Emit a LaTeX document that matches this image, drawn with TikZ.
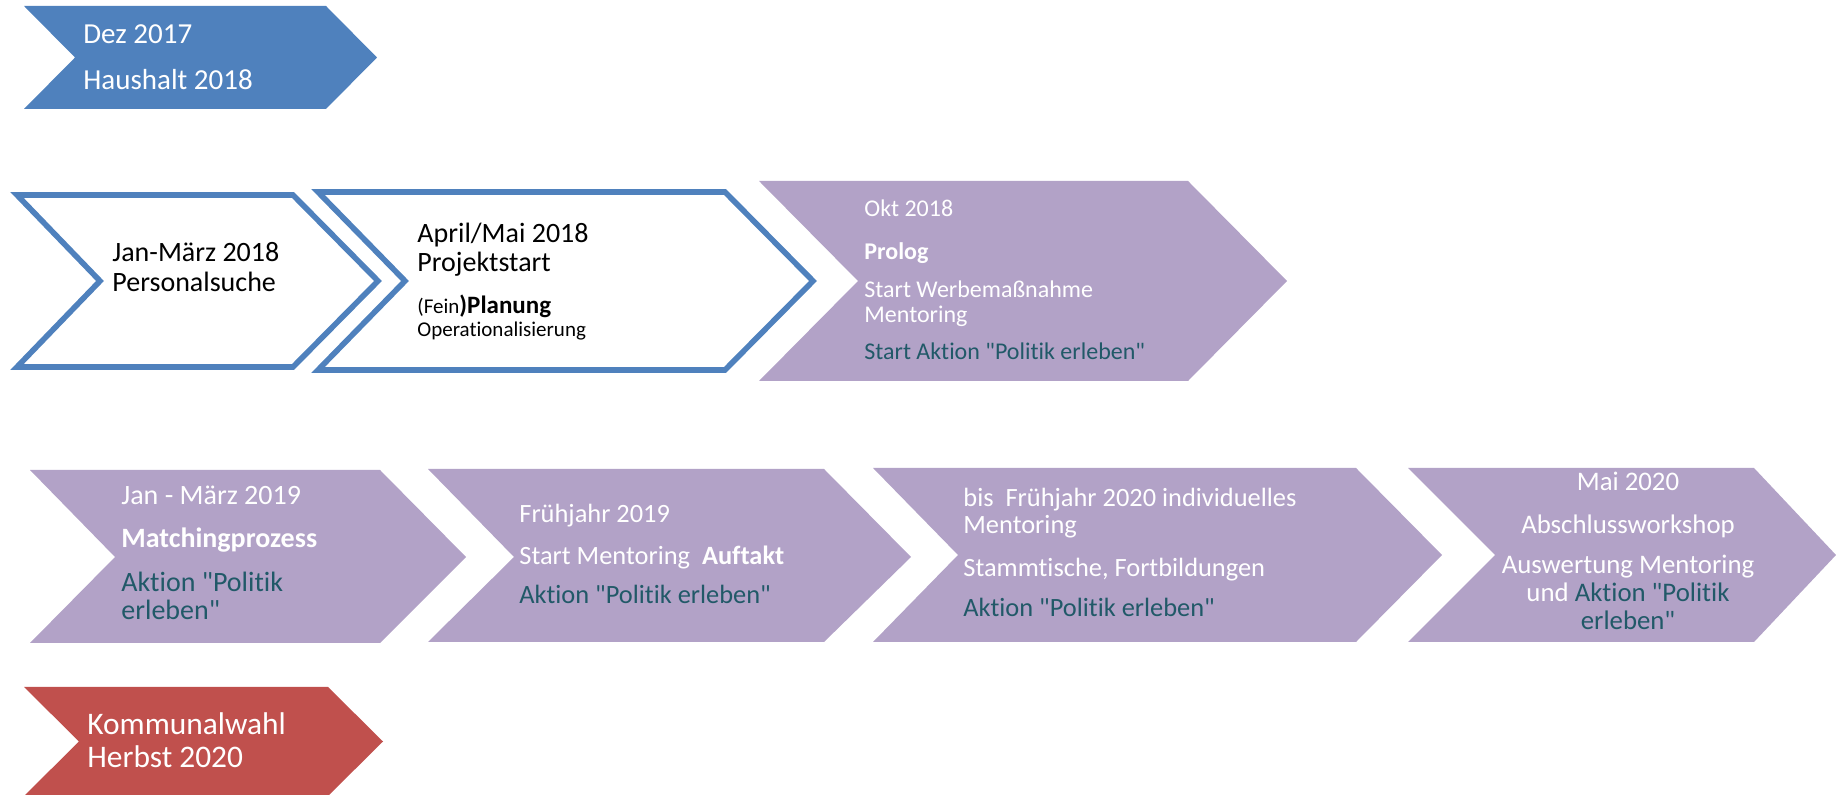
\documentclass[tikz,border=0pt]{standalone}
\usepackage{fontspec}
\setmainfont{Carlito}[Ligatures={TeXOff,NoCommon,NoContextual,NoRare},RawFeature={-calt}]
\usetikzlibrary{positioning}

\definecolor{chevblue}{HTML}{4F81BD}
\definecolor{chevlila}{HTML}{B2A2C7}
\definecolor{chevred}{HTML}{C0504D}
\definecolor{aktion}{HTML}{215968}

\begin{document}
\begin{tikzpicture}[
    x=0.5pt,
    y=-0.5pt,
    bluechev/.style={fill=chevblue},
    framechev/.style={draw=chevblue, line width=2.8pt, fill=white},
    lilachev/.style={fill=chevlila},
    redchev/.style={fill=chevred},
    fs/.style 2 args={font={\fontsize{#1}{#2}\selectfont}},
    txt/.style={anchor=base west, inner sep=0pt, align=left},
    wtxt/.style={txt, text=white},
    btxt/.style={txt, text=black},
    atxt/.style={txt, text=aktion},
    ctxt/.style={anchor=base, inner sep=0pt, align=center, text=white}
]

\useasboundingbox (0,0) rectangle (1836,795);

% ============================================================
% ZEILE 1: Haushalt
% (mehrzeilige Knoten: Anker = Grundlinie der letzten Zeile)
% ============================================================
\path[bluechev] (24,6) -- (326,6) -- (377,57.5) -- (326,109) -- (24,109) -- (75,57.5) -- cycle;
\node[wtxt, fs={14.5}{23}] (dez17) at (83,90) {Dez 2017\\Haushalt 2018};

% ============================================================
% ZEILE 2: Vorbereitung und Prolog
% ============================================================
\path[framechev] (17,195) -- (293,195) -- (378,281) -- (293,367) -- (17,367) -- (100,281) -- cycle;
\path[framechev] (318,192) -- (725,192) -- (813,281) -- (725,370) -- (318,370) -- (405,281) -- cycle;
\path[lilachev] (759,181) -- (1188,181) -- (1287,281) -- (1188,381) -- (759,381) -- (858,281) -- cycle;

\node[btxt, fs={14}{15}] (jan18) at (112,292) {Jan-März 2018\\Personalsuche};

\node[btxt, fs={14}{14.5}] (apr18) at (417,271.7) {April/Mai 2018\\Projektstart};
\node[btxt, fs={10.5}{11}] (plan) at (417,314) {(Fein{\fontsize{12.5}{13}\selectfont\bfseries )Planung}};
\node[btxt, fs={10.5}{11}] (oper) at (417,336.7) {Operationalisierung};

\node[wtxt, fs={12}{12.5}] (okt18) at (864,216.7) {Okt 2018};
\node[wtxt, fs={12}{12.5}] (prolog) at (864,259.3) {\bfseries Prolog};
\node[wtxt, fs={12}{12.5}] (werbung) at (864,322.7) {Start Werbemaßnahme\\Mentoring};
\node[atxt, fs={12}{12.5}] (aktion18) at (864,360) {Start Aktion "Politik erleben"};

% ============================================================
% ZEILE 3: Mentoring 2019/2020
% ============================================================
\path[lilachev] (30,470) -- (380,470) -- (466,557) -- (380,643) -- (30,643) -- (115,557) -- cycle;
\path[lilachev] (428,469) -- (824,469) -- (911,557) -- (824,642) -- (428,642) -- (514,557) -- cycle;
\path[lilachev] (873,468) -- (1356,468) -- (1442,555) -- (1356,642) -- (873,642) -- (958,555) -- cycle;
\path[lilachev] (1408,468) -- (1754,468) -- (1836,555) -- (1754,642) -- (1408,642) -- (1495,555) -- cycle;

\node[wtxt, fs={14}{14.2}] (jan19) at (121,505) {Jan - März 2019};
\node[wtxt, fs={14}{14.2}] (matching) at (121,548) {\bfseries Matchingprozess};
\node[atxt, fs={14}{14.2}] (aktion19a) at (121,620) {Aktion "Politik\\erleben"};

\node[wtxt, fs={13.2}{13.5}] (fj19) at (519,522.7) {Frühjahr 2019};
\node[wtxt, fs={13.2}{13.5}] (auftakt) at (519,564.3) {Start Mentoring\ \ \textbf{Auftakt}};
\node[atxt, fs={13.2}{13.5}] (aktion19b) at (519,603.3) {Aktion "Politik erleben"};

\node[wtxt, fs={13.2}{13.35}] (bis20) at (963,533.4) {bis\ \ Frühjahr 2020 individuelles\\Mentoring};
\node[wtxt, fs={13.2}{13.35}] (stamm) at (963,576.7) {Stammtische, Fortbildungen};
\node[atxt, fs={13.2}{13.35}] (aktion20) at (963,616.7) {Aktion "Politik erleben"};

\node[ctxt, fs={13.4}{14.2}] (mai20) at (1628,491) {Mai 2020};
\node[ctxt, fs={13.4}{14.2}] (workshop) at (1628,533.3) {Abschlussworkshop};
\node[ctxt, fs={13.4}{14.2}] (auswertung) at (1628,630)
    {Auswertung Mentoring\\und \textcolor{aktion}{Aktion "Politik}\\\textcolor{aktion}{erleben"}};

% ============================================================
% ZEILE 4: Kommunalwahl
% ============================================================
\path[redchev] (24,687) -- (328,687) -- (383,741.5) -- (328,796) -- (24,796) -- (79,741.5) -- cycle;
\node[wtxt, fs={15.7}{17}] (kw20) at (87,768) {Kommunalwahl\\Herbst 2020};

\end{tikzpicture}
\end{document}
